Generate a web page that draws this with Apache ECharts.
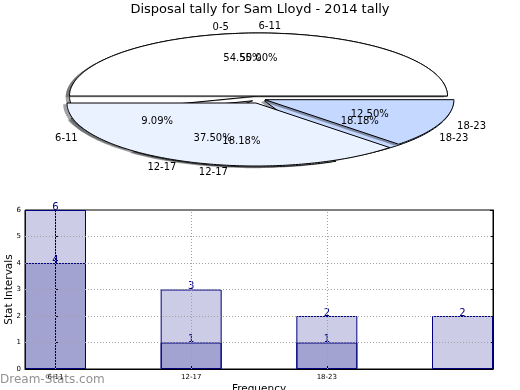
<!DOCTYPE html>
<html><head><meta charset="utf-8">
<script src="https://cdn.jsdelivr.net/npm/echarts@6/dist/echarts.min.js"></script>
<style>html,body{margin:0;padding:0;background:#fff}#c{width:520px;height:390px}</style>
</head><body><div id="c"></div>
<script>
// ---- data ----
const chartTitle = 'Disposal tally for Sam Lloyd - 2014 tally';
const pieOuterLabels = ['0-5', '6-11', '12-17', '18-23'];
const pieOuterValues = [6, 1, 2, 2];
const pieInnerLabels = ['6-11', '12-17', '18-23'];
const pieInnerValues = [4, 3, 1];
const barTickLabels = ['6-11', '12-17', '18-23'];
const barTotals = [6, 3, 2, 2];
const barSubset = [4, 1, 1, null];
const yTicks = [0, 1, 2, 3, 4, 5, 6];

// ---- style ----
const FONT = '"DejaVu Sans", sans-serif';
const PIE_GRID = { left: 69.5, top: 33, width: 378, height: 126 };
const RX_PX = PIE_GRID.width / 2, RY_PX = PIE_GRID.height / 2;
const pies = [
  { labels: pieOuterLabels, values: pieOuterValues, colors: ['#ffffff', '#eaf1ff', '#eaf1ff', '#c5d8ff'], explodePx: [0, 7, 7, 7] },
  { labels: pieInnerLabels, values: pieInnerValues, colors: ['#ffffff', '#eaf1ff', '#c5d8ff'], explodePx: [0, 6.5, 7] }
];
const LOWER_DROP_PX = 1; // extra downward offset of exploded wedges

function geom(p, s) {
  const vals = pies[p].values;
  const total = vals.reduce((a, b) => a + b, 0);
  let cum = 0;
  for (let i = 0; i < s; i++) cum += vals[i];
  const a0 = cum / total * 2 * Math.PI;
  const a1 = (cum + vals[s]) / total * 2 * Math.PI;
  const am = (a0 + a1) / 2;
  const e = pies[p].explodePx[s];
  const drop = e > 0 ? LOWER_DROP_PX : 0;
  return { a0, a1, am, frac: vals[s] / total, ox: e * Math.cos(am) / RX_PX, oy: (e * Math.sin(am) - drop) / RY_PX };
}

const wedgeItems = [];
const labelItems = [];
pies.forEach((pie, p) => {
  pie.values.forEach((v, s) => {
    wedgeItems.push({ p, s, shadow: true });
    wedgeItems.push({ p, s, shadow: false });
    labelItems.push({ p, s, kind: 'label' });
    labelItems.push({ p, s, kind: 'pct' });
  });
});

function shade(hex) {
  const n = parseInt(hex.slice(1), 16);
  const r = ((n >> 16) & 255) * 0.3, g = ((n >> 8) & 255) * 0.3, b = (n & 255) * 0.3;
  return `rgba(${r | 0},${g | 0},${b | 0},0.5)`;
}

function renderWedge(params, api) {
  const it = wedgeItems[params.dataIndex];
  const g = geom(it.p, it.s);
  let ox = g.ox, oy = g.oy;
  if (it.shadow) { ox -= 0.02; oy -= 0.02; }
  const pts = [api.coord([ox, oy])];
  const n = Math.max(4, Math.ceil((g.a1 - g.a0) / (Math.PI / 180)));
  for (let k = 0; k <= n; k++) {
    const a = g.a0 + (g.a1 - g.a0) * k / n;
    pts.push(api.coord([ox + Math.cos(a), oy + Math.sin(a)]));
  }
  const col = pies[it.p].colors[it.s];
  return {
    type: 'polygon',
    shape: { points: pts },
    style: it.shadow ? { fill: shade(col), stroke: null } : { fill: col, stroke: '#000', lineWidth: 1 }
  };
}

function renderLabel(params, api) {
  const it = labelItems[params.dataIndex];
  const g = geom(it.p, it.s);
  let pos, text, align;
  if (it.kind === 'label') {
    pos = api.coord([g.ox + 1.1 * Math.cos(g.am), g.oy + 1.1 * Math.sin(g.am)]);
    text = pies[it.p].labels[it.s];
    align = Math.cos(g.am) > 0 ? 'left' : 'right';
  } else {
    pos = api.coord([g.ox + 0.6 * Math.cos(g.am), g.oy + 0.6 * Math.sin(g.am)]);
    text = (g.frac * 100).toFixed(2) + '%';
    align = 'center';
  }
  return {
    type: 'text', x: pos[0], y: pos[1],
    style: { text, fill: '#000', font: '10px ' + FONT, align, verticalAlign: 'middle' }
  };
}

const gridMarks = yTicks.filter(v => v > yTicks[0] && v < yTicks[yTicks.length - 1]).map(v => ({ yAxis: v }))
  .concat(barTickLabels.map((_, i) => ({ xAxis: i })));

const chart = echarts.init(document.getElementById('c'));
chart.setOption({
  animation: false,
  backgroundColor: '#fff',
  title: { text: chartTitle, left: 'center', top: -2, textStyle: { fontSize: 13, fontWeight: 'normal', color: '#000', fontFamily: FONT } },
  grid: [
    Object.assign({ show: false, outerBoundsMode: 'none', containLabel: false }, PIE_GRID),
    { left: 25, top: 210, width: 468, height: 159, show: true, borderColor: '#000', borderWidth: 1, backgroundColor: 'transparent', outerBoundsMode: 'none', containLabel: false }
  ],
  xAxis: [
    { gridIndex: 0, type: 'value', min: -1, max: 1, show: false },
    {
      gridIndex: 1, type: 'value', min: -0.2248, max: 3.2248, splitNumber: 3,
      axisLine: { show: true, onZero: false, lineStyle: { color: '#000', width: 1 } },
      axisTick: { show: true, inside: true, length: 4, customValues: [0, 1, 2], lineStyle: { color: '#000' } },
      axisLabel: {
        customValues: [0, 1, 2], fontSize: 7, color: '#000', margin: 5, fontFamily: FONT,
        formatter: v => (Number.isInteger(v) && barTickLabels[v] !== undefined) ? barTickLabels[v] : ''
      },
      splitLine: { show: false },
      name: 'Frequency', nameLocation: 'middle', nameGap: 15, nameMoveOverlap: false,
      nameTextStyle: { fontSize: 10.5, color: '#000', fontFamily: FONT }
    }
  ],
  yAxis: [
    { gridIndex: 0, type: 'value', min: -1, max: 1, show: false },
    {
      gridIndex: 1, type: 'value', min: yTicks[0], max: yTicks[yTicks.length - 1], interval: 1,
      axisLine: { show: true, lineStyle: { color: '#000', width: 1 } },
      axisTick: { show: true, inside: true, length: 3, lineStyle: { color: '#000' } },
      axisLabel: { fontSize: 7, color: '#000', margin: 4, fontFamily: FONT },
      splitLine: { show: false },
      name: 'Stat Intervals', nameLocation: 'middle', nameGap: 10, nameRotate: 90, nameMoveOverlap: false,
      nameTextStyle: { fontSize: 10.5, color: '#000', fontFamily: FONT }
    },
    {
      gridIndex: 1, type: 'value', position: 'right', min: yTicks[0], max: yTicks[yTicks.length - 1], interval: 1,
      axisLine: { show: true, lineStyle: { color: '#000', width: 1 } },
      axisTick: { show: true, inside: true, length: 3, lineStyle: { color: '#000' } },
      axisLabel: { show: false }, splitLine: { show: false }
    }
  ],
  graphic: [
    { type: 'text', left: 0, top: 374, z: 100, style: { text: 'Dream-Stats.com', font: '12px ' + FONT, fill: 'rgba(110,110,110,0.75)' } }
  ],
  series: [
    { type: 'custom', xAxisIndex: 0, yAxisIndex: 0, renderItem: renderWedge, data: wedgeItems.map(() => [0, 0]), z: 2, silent: true },
    { type: 'custom', xAxisIndex: 0, yAxisIndex: 0, renderItem: renderLabel, data: labelItems.map(() => [0, 0]), z: 10, silent: true },
    {
      type: 'bar', xAxisIndex: 1, yAxisIndex: 1, barWidth: 61, barGap: '-100%',
      data: barTotals.map((v, i) => [i, v]),
      itemStyle: { color: 'rgba(0,0,128,0.2)', borderColor: '#000080', borderWidth: 1 },
      label: { show: true, position: 'top', distance: -2, color: '#000080', fontSize: 10, fontFamily: FONT, formatter: p => p.value[1] }
    },
    {
      type: 'bar', xAxisIndex: 1, yAxisIndex: 1, barWidth: 61, barGap: '-100%',
      data: barSubset.map((v, i) => [i, v]),
      itemStyle: { color: 'rgba(0,0,128,0.2)', borderColor: '#000080', borderWidth: 1 },
      label: { show: true, position: 'top', distance: -2, color: '#000080', fontSize: 10, fontFamily: FONT, formatter: p => p.value[1] },
      markLine: {
        silent: true, symbol: 'none', label: { show: false },
        lineStyle: { color: '#a0a0a0', type: [1, 2], width: 1 },
        data: gridMarks
      }
    }
  ]
});
</script>
</body></html>
